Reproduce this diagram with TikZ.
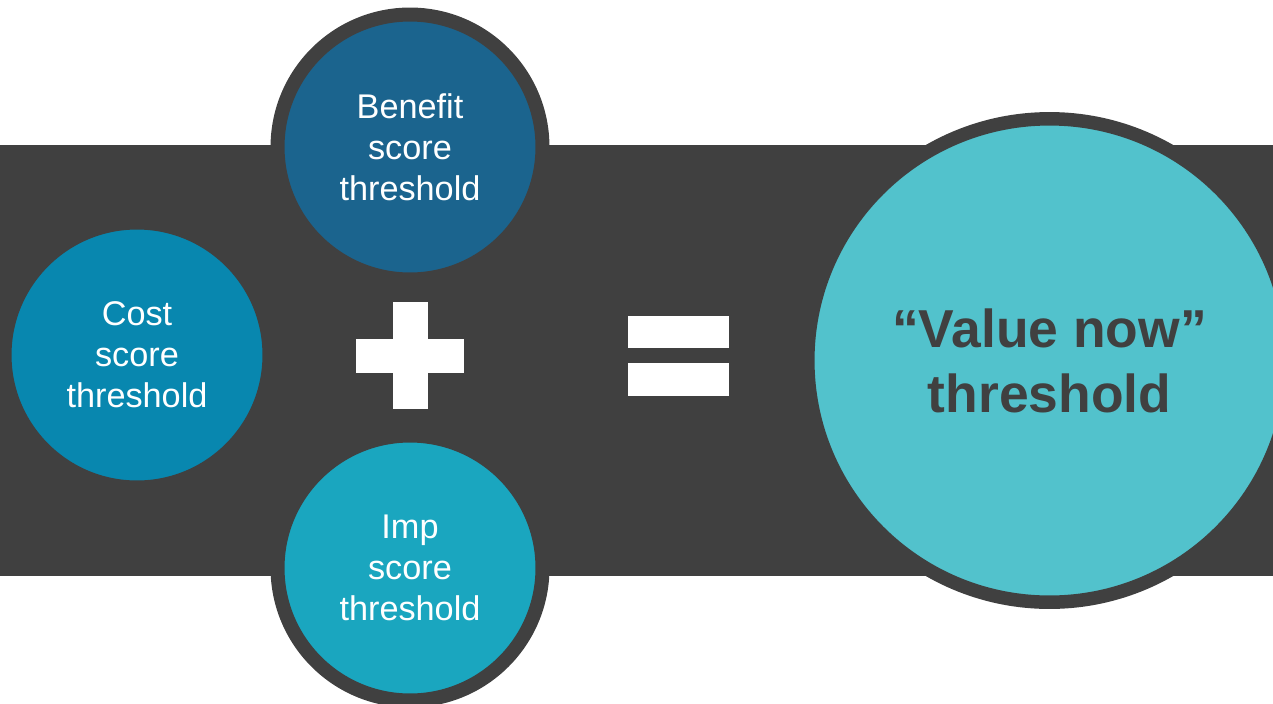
\documentclass[tikz,border=0pt]{standalone}
\usepackage{fontspec}
\setmainfont{Liberation Sans}
\usepackage{tikz}
\usetikzlibrary{shapes.geometric, positioning}
\definecolor{bandgray}{RGB}{64,64,64}
\definecolor{benefitblue}{RGB}{27,100,142}
\definecolor{costblue}{RGB}{8,135,175}
\definecolor{impcyan}{RGB}{26,166,191}
\definecolor{valueteal}{RGB}{82,194,204}
\tikzset{
  scorecirc/.style={circle,draw=bandgray,line width=0.28cm,minimum size=5.3cm,
    inner sep=0pt,outer sep=0pt,align=center,text=white,
    font=\fontsize{19.5}{23.3}\selectfont},
  valuecirc/.style={circle,draw=bandgray,line width=0.27cm,minimum size=9.67cm,
    inner sep=0pt,outer sep=0pt,align=center,fill=valueteal,text=bandgray,
    font=\fontsize{30.4}{37}\selectfont\bfseries},
  opbar/.style={rectangle,fill=white,inner sep=0pt,outer sep=0pt}
}

\begin{document}
\begin{tikzpicture}[x=0.02cm,y=-0.02cm]
  \useasboundingbox (0,0) rectangle (1273,703);
  \clip (0,0) rectangle (1273,703);

  %% Dark band behind everything
  \fill[bandgray] (0,145) rectangle (1273,576);

  %% Score circles
  \node[scorecirc,fill=benefitblue] (benefit) at (410,147) {Benefit\\score\\threshold};
  \node[scorecirc,fill=costblue] (cost) at (137,355) {Cost\\score\\threshold};
  \node[scorecirc,fill=impcyan] (imp) at (410,568) {Imp\\score\\threshold};

  %% Plus sign
  \node[opbar,minimum width=2.16cm,minimum height=0.68cm] (plush) at (410,356) {};
  \node[opbar,minimum width=0.70cm,minimum height=2.14cm] (plusv) at (410,355.5) {};

  %% Equals sign
  \node[opbar,minimum width=2.01cm,minimum height=0.64cm] (eqtop) at (678.5,332) {};
  \node[opbar,minimum width=2.01cm,minimum height=0.65cm] (eqbot) at (678.5,379.5) {};

  %% Result circle
  \node[valuecirc] (valnow) at (1049.5,360.5) {“Value now”\\threshold};
\end{tikzpicture}
\end{document}
